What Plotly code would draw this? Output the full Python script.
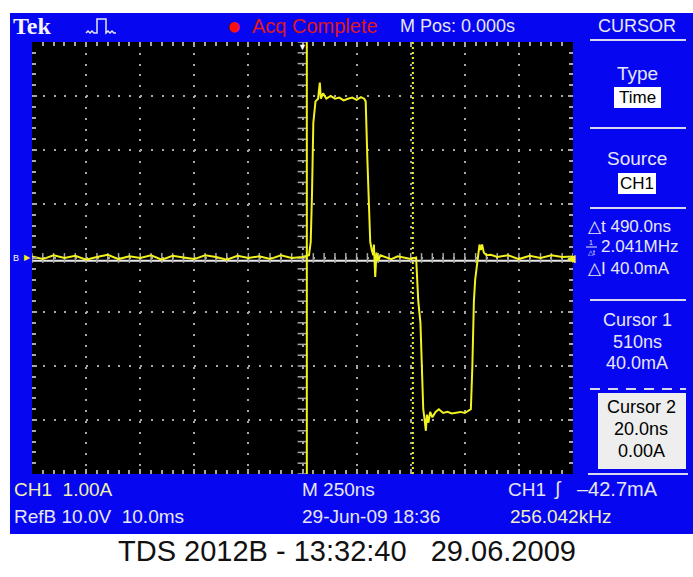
import plotly.graph_objects as go
import numpy as np

W, H = 693, 577

# ---------------- data ----------------
t_ns = [-1250, -1200, -1150, -1100, -1050, -1000, -950, -900, -850, -800, -750, -700,
        -650, -600, -550, -500, -450, -400, -350, -300, -250, -200, -150, -100, -50, 0, 30,
        38, 44, 50, 60, 72, 80, 85, 95, 110, 130, 150, 170, 190, 210, 230, 250, 270, 285, 292,
        300, 307, 313, 320, 327, 330, 336, 342, 350, 360, 380, 410, 440, 470, 500, 525,
        530, 535, 545, 552, 558, 563, 570, 575, 582, 590, 600, 615, 630, 650, 670, 690, 710,
        730, 750, 770, 778, 785, 792, 798, 805, 812, 818, 824, 830, 838, 850,
        870, 900, 950, 1000, 1050, 1100, 1150, 1200, 1250]
i_A = [0.03, -0.02, 0.05, 0.0, 0.04, -0.03, 0.02, 0.06, -0.02, 0.03, 0.0, 0.05,
       -0.03, 0.04, 0.01, -0.02, 0.05, 0.02, -0.03, 0.04, 0.0, 0.03, -0.02, 0.05, 0.0, 0.02, 0.05,
       0.3, 1.2, 2.5, 2.9, 2.95, 3.25, 2.95, 3.05, 2.95, 3.0, 2.95, 2.97, 2.92, 2.95, 2.97, 2.93, 2.98, 2.95, 2.9,
       1.8, 0.9, 0.3, 0.15, 0.05, 0.25, -0.35, 0.1, -0.05, 0.05, 0.02, -0.02, 0.03, 0.0, -0.02, 0.01,
       -0.3, -0.8, -1.2, -2.3, -2.8, -2.95, -3.2, -2.9, -3.05, -2.85, -2.95, -2.85, -2.8, -2.87, -2.85, -2.88, -2.86,
       -2.85, -2.87, -2.83, -2.8, -2.0, -0.8, -0.4, -0.15, 0.05, 0.25, 0.15, 0.25, 0.1, 0.05,
       0.06, 0.02, 0.05, -0.02, 0.04, 0.0, 0.05, 0.02, 0.03]

ref_t = [-1250, -625, 0, 625, 1250]
ref_v = [-0.05, -0.05, -0.05, -0.05, -0.05]

cursor1_ns = 510
cursor2_ns = 20
x_range = [-1250, 1250]   # 250 ns/div, 10 div
y_range = [-4, 4]         # 1.00 A/div, 8 div

# ---------------- helpers ----------------
def px(x):
    return x / W

def py(y):
    return 1 - y / H

BLUE = "#0606f0"
YEL = "#f2f21e"
LIGHT = "#e6e6f4"
GRID = "#a8a8a8"
FONT = "Liberation Sans, Arial, sans-serif"
SERIF = "Liberation Serif, DejaVu Serif, serif"

fig = go.Figure()

# reference waveform (RefB, white)
fig.add_trace(go.Scatter(x=ref_t, y=ref_v, mode="lines",
                         line=dict(color="#e8e8e8", width=2), hoverinfo="skip"))

# centre-line minor ticks (graticule decoration)
cx = np.arange(x_range[0], x_range[1] + 1, 50)
cy = np.arange(y_range[0], y_range[1] + 0.001, 0.2)
fig.add_trace(go.Scatter(x=cx, y=np.zeros_like(cx), mode="markers",
                         marker=dict(symbol="line-ns", size=7, line=dict(color=GRID, width=1.5)),
                         hoverinfo="skip"))
fig.add_trace(go.Scatter(x=np.zeros_like(cy), y=cy, mode="markers",
                         marker=dict(symbol="line-ew", size=7, line=dict(color=GRID, width=1.5)),
                         hoverinfo="skip"))

# CH1 trace
fig.add_trace(go.Scatter(x=t_ns, y=i_A, mode="lines",
                         line=dict(color=YEL, width=2), hoverinfo="skip"))

shapes = []
# blue frame and black graticule background
shapes.append(dict(type="rect", xref="paper", yref="paper", x0=px(10), x1=px(693),
                   y0=py(534), y1=py(13), fillcolor=BLUE, line=dict(width=0), layer="below"))
shapes.append(dict(type="rect", xref="paper", yref="paper", x0=px(32), x1=px(573),
                   y0=py(474), y1=py(42), fillcolor="black", line=dict(width=0), layer="below"))

# cursors
shapes.append(dict(type="line", xref="x", yref="paper", x0=cursor2_ns, x1=cursor2_ns,
                   y0=py(474), y1=py(42), line=dict(color=YEL, width=2)))
shapes.append(dict(type="line", xref="x", yref="paper", x0=cursor1_ns, x1=cursor1_ns,
                   y0=py(474), y1=py(42), line=dict(color=YEL, width=2, dash="2px,3px")))

# right panel separators
for yy in [40, 128, 208, 300]:
    shapes.append(dict(type="line", xref="paper", yref="paper", x0=px(590), x1=px(686),
                       y0=py(yy), y1=py(yy), line=dict(color="#d8d8ec", width=2)))
shapes.append(dict(type="line", xref="paper", yref="paper", x0=px(590), x1=px(686),
                   y0=py(389), y1=py(389), line=dict(color="#d8d8ec", width=2, dash="10px,8px")))
shapes.append(dict(type="line", xref="paper", yref="paper", x0=px(588), x1=px(688),
                   y0=py(474), y1=py(474), line=dict(color="#d8d8ec", width=2)))

# white boxes
shapes.append(dict(type="rect", xref="paper", yref="paper", x0=px(614), x1=px(661),
                   y0=py(108), y1=py(87), fillcolor="white", line=dict(width=0)))
shapes.append(dict(type="rect", xref="paper", yref="paper", x0=px(618), x1=px(656),
                   y0=py(194), y1=py(173), fillcolor="white", line=dict(width=0)))
shapes.append(dict(type="rect", xref="paper", yref="paper", x0=px(598), x1=px(686),
                   y0=py(469), y1=py(393), fillcolor="#eeeeee", line=dict(width=0)))

# pulse icon in the header
icon = [(86, 33), (88, 31), (90, 33), (92, 31), (94, 33), (97, 33), (97, 19), (106, 19),
        (106, 33), (108, 31), (110, 33), (112, 31), (114, 33), (116, 33)]
path = "M " + " L ".join(f"{px(a)},{py(b)}" for a, b in icon)
shapes.append(dict(type="path", xref="paper", yref="paper", path=path,
                   line=dict(color=LIGHT, width=1.5)))
# 1/delta-t fraction bar
shapes.append(dict(type="line", xref="paper", yref="paper", x0=px(586), x1=px(597),
                   y0=py(247), y1=py(247), line=dict(color=LIGHT, width=1)))

fig.update_layout(shapes=shapes)

ann = []
def txt(x, y, s, size=17, color=LIGHT, anchor="left", family=FONT):
    ann.append(dict(x=px(x), y=py(y), xref="paper", yref="paper", text=s, showarrow=False,
                    xanchor=anchor, yanchor="middle", font=dict(size=size, color=color, family=family)))

# header
txt(11, 26, "<b>Tek</b>", size=24, color="#f4f4ff", family=SERIF)
txt(234, 26, "●", size=24, color="#ff1010", anchor="center")
txt(250, 26, "Acq Complete", size=20, color="#e01818")
txt(398, 26, "M Pos: 0.000s", size=18)
txt(637, 26, "CURSOR", size=18, anchor="center")

# right panel
txt(637, 73, "Type", size=19, anchor="center")
txt(637, 97, "Time", size=17, color="black", anchor="center")
txt(637, 158, "Source", size=19, anchor="center")
txt(637, 183, "CH1", size=17, color="black", anchor="center")
txt(586, 226, "△t 490.0ns", size=17)
txt(591, 242, "1", size=7, anchor="center")
txt(591, 252, "△t", size=7, anchor="center")
txt(599, 247, "2.041MHz", size=17)
txt(586, 268, "△I 40.0mA", size=17)
txt(637, 320, "Cursor 1", size=18, anchor="center")
txt(637, 342, "510ns", size=18, anchor="center")
txt(637, 363, "40.0mA", size=18, anchor="center")
txt(641, 407, "Cursor 2", size=18, color="black", anchor="center")
txt(641, 429, "20.0ns", size=18, color="black", anchor="center")
txt(641, 451, "0.00A", size=18, color="black", anchor="center")

# markers on graticule edge
txt(16, 258, "B", size=9, color="white", anchor="center")
txt(27, 257, "▶", size=8, color=YEL, anchor="center")
txt(571, 258, "◀", size=11, color=YEL, anchor="center")
txt(302, 47, "▼", size=9, color="white", anchor="center")

# bottom status
txt(12, 489, "CH1  1.00A", size=19, color="#f0f0b0")
txt(12, 516, "RefB 10.0V  10.0ms", size=19, color="#e8e8f0")
txt(300, 489, "M 250ns", size=19)
txt(300, 516, "29-Jun-09 18:36", size=19)
txt(506, 489, "CH1", size=19)
txt(558, 489, "∫", size=19, anchor="center")
txt(660, 489, "–42.7mA", size=20, anchor="right")
txt(508, 516, "256.042kHz", size=19, color="#f0f0c0")

# caption
txt(347, 551, "TDS 2012B - 13:32:40   29.06.2009", size=29, color="#111111", anchor="center")

fig.update_layout(annotations=ann)

fig.update_layout(
    width=W, height=H, margin=dict(l=0, r=0, t=0, b=0),
    paper_bgcolor="white", plot_bgcolor="rgba(0,0,0,0)",
    showlegend=False,
    xaxis=dict(range=x_range, domain=[px(32), px(573)], dtick=250, tick0=0,
               showgrid=True, gridcolor=GRID, gridwidth=2, griddash="2px,8.82px",
               zeroline=False, showticklabels=False, showline=False,
               ticks="inside", ticklen=5, tickcolor=GRID, tickwidth=1.5, mirror="ticks",
               minor=dict(dtick=50, ticks="inside", ticklen=4, tickcolor=GRID, showgrid=False),
               fixedrange=True),
    yaxis=dict(range=y_range, domain=[py(474), py(42)], dtick=1, tick0=0,
               showgrid=True, gridcolor=GRID, gridwidth=2, griddash="2px,8.8px",
               zeroline=False, showticklabels=False, showline=False,
               ticks="inside", ticklen=5, tickcolor=GRID, tickwidth=1.5, mirror="ticks",
               minor=dict(dtick=0.2, ticks="inside", ticklen=4, tickcolor=GRID, showgrid=False),
               fixedrange=True),
)

fig.write_html("out.html", config={"displayModeBar": False},
               post_script="document.body.style.margin='0px';")
